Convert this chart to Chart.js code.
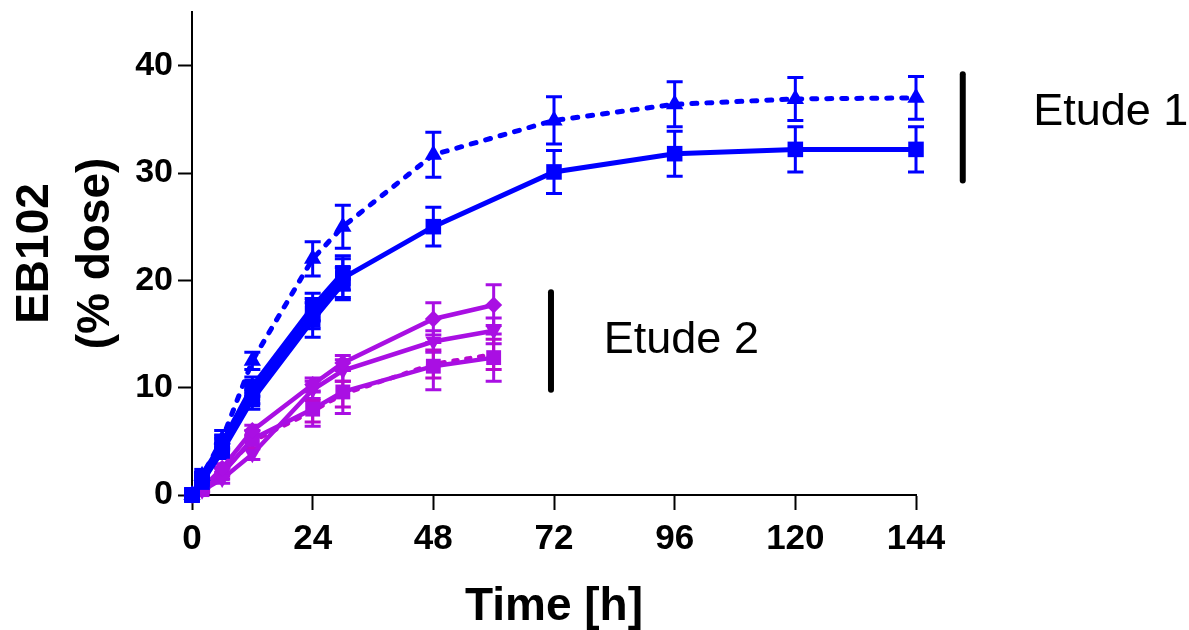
<!DOCTYPE html>
<html>
<head>
<meta charset="utf-8">
<script src="https://cdn.jsdelivr.net/npm/chart.js@4.4.1/dist/chart.umd.min.js"></script>
<style>
  html, body { margin: 0; padding: 0; background: #fff; }
  #wrap { width: 1189px; height: 630px; }
</style>
</head>
<body>
<div id="wrap"><canvas id="chart"></canvas></div>
<script>
// sampling times (h)
const times1 = [0, 2, 6, 12, 24, 30, 48, 72, 96, 120, 144];
const times1Early = [0, 2, 6, 12, 24, 30];
const times2 = [0, 2, 6, 12, 24, 30, 48, 60];
const xTicks = [0, 24, 48, 72, 96, 120, 144];
const yTicks = [0, 10, 20, 30, 40];

// Etude 1 (blue)
const e1Tri = [0, 1.8, 5.2, 12.5, 22.0, 25.0, 31.7, 34.9, 36.4, 36.9, 37.0];
const e1TriErr = [0, 0.3, 0.8, 0.8, 1.6, 2.0, 2.1, 2.2, 2.1, 2.0, 2.0];
const e1Sq = [0, 1.5, 4.5, 9.5, 16.9, 20.2, 25.0, 30.1, 31.8, 32.2, 32.2];
const e1SqErr = [0, 0.3, 0.8, 1.0, 1.4, 1.8, 1.8, 2.0, 2.1, 2.1, 2.1];
const e1SqB = [0, 1.2, 4.1, 8.9, 16.3, 19.7];
const e1SqBErr = [0, 0.3, 0.7, 0.9, 1.6, 1.5];
const e1SqC = [0, 1.8, 4.9, 10.1, 17.5, 20.7];
const e1SqCErr = [0, 0.3, 0.7, 0.9, 1.3, 1.6];

// Etude 2 (purple)
const e2Dia = [0, 0.6, 2.5, 6.0, 10.3, 12.3, 16.4, 17.7];
const e2DiaErr = [0, 0.2, 0.4, 0.5, 0.6, 0.7, 1.5, 1.9];
const e2Down = [0, 0.4, 1.5, 3.8, 9.8, 11.6, 14.3, 15.3];
const e2DownErr = [0, 0.2, 0.4, 0.5, 0.8, 1.0, 1.0, 1.2];
const e2Sq = [0, 0.5, 2.0, 5.2, 8.0, 9.6, 12.0, 12.8];
const e2SqErr = [0, 0.2, 0.5, 0.8, 1.6, 2.0, 2.2, 2.2];
const e2Dash = [0, 0.5, 2.2, 5.0, 7.8, 9.4, 12.2, 13.1];
const e2DashErr = [0, 0.2, 0.4, 0.6, 1.0, 1.2, 1.3, 1.4];

// group markers: [x, yFrom, yTo] and labels [x, y, text]
const groupBars = [[153.3, 39.2, 29.3], [71.4, 18.9, 9.8]];
const groupLabels = [[167.3, 35.6, 'Etude 1'], [81.9, 14.4, 'Etude 2']];

const BLUE = '#0000ff';
const PURPLE = '#a90fe3';
const MAGENTA = '#b80acf';

const pts = (xs, ys) => xs.map((x, i) => ({ x, y: ys[i] }));

function series(xs, ys, errs, color, style, opts) {
  return Object.assign({
    data: pts(xs, ys),
    errors: errs,
    borderColor: color,
    backgroundColor: color,
    pointBackgroundColor: color,
    pointBorderColor: color,
    pointBorderWidth: 0,
    pointStyle: style,
    pointRadius: 10,
    borderWidth: 5,
    tension: 0,
    clip: false
  }, opts || {});
}

const datasets = [
  series(times1, e1Tri, e1TriErr, BLUE, 'triangle', { pointRadius: 10, borderDash: [5, 10], borderCapStyle: 'round' }),
  series(times1, e1Sq, e1SqErr, BLUE, 'rect', { pointRadius: 11 }),
  series(times1Early, e1SqB, e1SqBErr, BLUE, 'rect', { pointRadius: 11 }),
  series(times1Early, e1SqC, e1SqCErr, BLUE, 'rect', { pointRadius: 11 }),
  series(times2, e2Dia, e2DiaErr, PURPLE, 'rectRot', { pointRadius: 8.5, borderWidth: 4.5 }),
  series(times2, e2Down, e2DownErr, PURPLE, 'triangle', { pointRadius: 9, pointRotation: 180, borderWidth: 4.5 }),
  series(times2, e2Sq, e2SqErr, PURPLE, 'rect', { pointRadius: 10.5, borderWidth: 4.5 }),
  series(times2, e2Dash, e2DashErr, MAGENTA, 'circle', { pointRadius: 3, borderWidth: 4.5, borderDash: [4, 9], borderCapStyle: 'round' })
];

// vertical error bars with caps
const errorBars = {
  id: 'errorBars',
  beforeDatasetsDraw(chart) {
    const { ctx, scales: { x, y } } = chart;
    ctx.save();
    chart.data.datasets.forEach(ds => {
      if (!ds.errors) return;
      ctx.strokeStyle = ds.borderColor;
      ctx.lineWidth = 3;
      ds.data.forEach((p, i) => {
        const e = ds.errors[i];
        if (!e) return;
        const px = x.getPixelForValue(p.x);
        const top = y.getPixelForValue(p.y + e);
        const bot = y.getPixelForValue(p.y - e);
        ctx.beginPath();
        ctx.moveTo(px, top); ctx.lineTo(px, bot);
        ctx.moveTo(px - 8, top); ctx.lineTo(px + 8, top);
        ctx.moveTo(px - 8, bot); ctx.lineTo(px + 8, bot);
        ctx.stroke();
      });
    });
    ctx.restore();
  }
};

// study brackets and their labels
const groups = {
  id: 'groups',
  afterDraw(chart) {
    const { ctx, scales: { x, y } } = chart;
    ctx.save();
    ctx.strokeStyle = '#000';
    ctx.lineWidth = 6;
    ctx.lineCap = 'round';
    groupBars.forEach(([gx, y0, y1]) => {
      ctx.beginPath();
      ctx.moveTo(x.getPixelForValue(gx), y.getPixelForValue(y0));
      ctx.lineTo(x.getPixelForValue(gx), y.getPixelForValue(y1));
      ctx.stroke();
    });
    ctx.fillStyle = '#000';
    ctx.font = '45px "Liberation Sans", Arial, sans-serif';
    ctx.textBaseline = 'middle';
    ctx.textAlign = 'left';
    groupLabels.forEach(([gx, gy, txt]) => {
      ctx.fillText(txt, x.getPixelForValue(gx), y.getPixelForValue(gy));
    });
    ctx.restore();
  }
};

new Chart(document.getElementById('chart'), {
  type: 'line',
  data: { datasets },
  plugins: [errorBars, groups],
  options: {
    responsive: true,
    maintainAspectRatio: false,
    animation: false,
    layout: { padding: { left: 0, right: 273, top: 12, bottom: 0 } },
    plugins: { legend: { display: false }, tooltip: { enabled: false } },
    scales: {
      x: {
        type: 'linear',
        min: 0,
        max: 144,
        afterBuildTicks: s => { s.ticks = xTicks.map(v => ({ value: v })); },
        afterFit: s => { s.height = 135; s.paddingLeft = 0; s.paddingRight = 0; },
        border: { display: true, color: '#000', width: 2 },
        grid: { drawOnChartArea: false, drawTicks: true, tickLength: 15, tickColor: '#000', tickWidth: 2 },
        ticks: {
          color: '#000',
          padding: 8,
          maxRotation: 0,
          font: { family: '"Liberation Sans", Arial, sans-serif', size: 35, weight: 'bold' }
        },
        title: {
          display: true,
          text: 'Time [h]',
          color: '#000',
          padding: { top: 0, bottom: 0 },
          font: { family: '"Liberation Sans", Arial, sans-serif', size: 46, weight: 'bold', lineHeight: 1 }
        }
      },
      y: {
        min: 0,
        max: 45,
        afterBuildTicks: s => { s.ticks = yTicks.map(v => ({ value: v })); },
        afterFit: s => { s.width = 192; s.paddingTop = 0; s.paddingBottom = 0; },
        border: { display: true, color: '#000', width: 2 },
        grid: { drawOnChartArea: false, drawTicks: true, tickLength: 14, tickColor: '#000', tickWidth: 2 },
        ticks: {
          color: '#000',
          padding: 5,
          font: { family: '"Liberation Sans", Arial, sans-serif', size: 34, weight: 'bold' }
        },
        title: {
          display: true,
          text: ['EB102', '(% dose)'],
          color: '#000',
          padding: { top: 5, bottom: 0 },
          font: { family: '"Liberation Sans", Arial, sans-serif', size: 46, weight: 'bold', lineHeight: 1.33 }
        }
      }
    }
  }
});
</script>
</body>
</html>
